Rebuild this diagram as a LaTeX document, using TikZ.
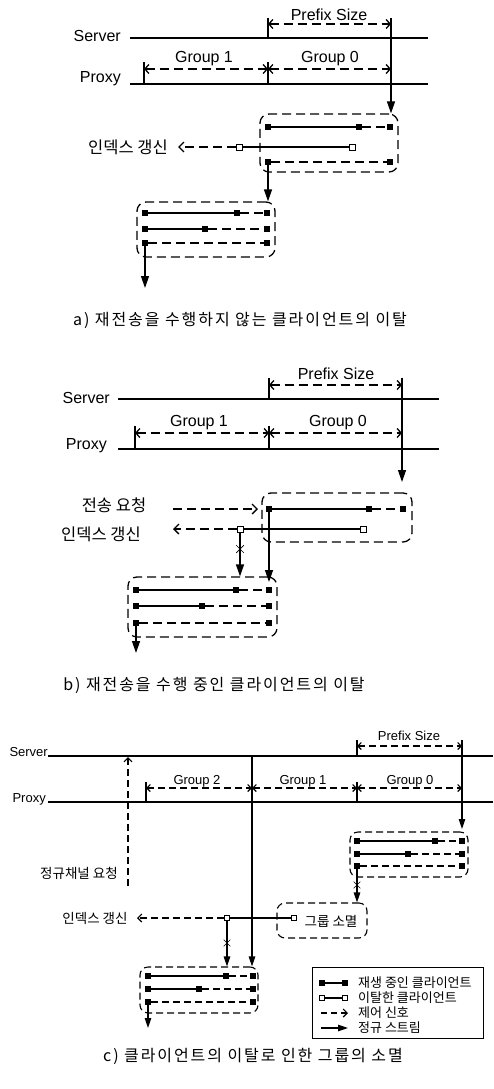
\documentclass[tikz,border=0pt]{standalone}
\usepackage{fontspec}
\setmainfont{Liberation Sans}
\newfontfamily\kr{Noto Sans CJK KR}
\newfontfamily\krcap[LetterSpace=12]{Noto Sans CJK KR}
\usetikzlibrary{arrows.meta,shapes.misc}
\tikzset{
 bsq/.style={rectangle, fill=black, minimum size=6.5pt, inner sep=0pt},
 wsq/.style={rectangle, draw=black, fill=white, line width=0.9pt, minimum size=6pt, inner sep=0pt},
 sl/.style={line width=1.3pt},
 dl/.style={line width=1.3pt, dash pattern=on 9pt off 5pt},
 boxn/.style={draw, line width=1.3pt, dash pattern=on 9pt off 5pt, rounded corners=9pt, inner sep=0pt},
 sarr/.style={line width=1.3pt, -{Triangle[length=12pt,width=8pt]}},
 carr/.style={dl, -{Straight Barb[length=5pt,width=10pt]}},
 darr/.style={dl, {Straight Barb[length=4pt,width=9pt]}-{Straight Barb[length=4pt,width=9pt]}},
 xm/.style={draw, cross out, line width=0.7pt, minimum size=7pt, inner sep=0pt},
 lat/.style={font=\fontsize{16}{18}\selectfont, inner sep=0pt},
 kor/.style={font=\kr\fontsize{16.5}{18}\selectfont, inner sep=0pt},
 captxt/.style={font=\krcap\fontsize{16}{18}\selectfont, inner sep=0pt},
 bsqc/.style={rectangle, fill=black, minimum size=5.5pt, inner sep=0pt},
 wsqc/.style={rectangle, draw=black, fill=white, line width=0.8pt, minimum size=5.5pt, inner sep=0pt},
 slc/.style={line width=1.1pt},
 dlc/.style={line width=1.1pt, dash pattern=on 7pt off 4pt},
 boxc/.style={draw, line width=1.1pt, dash pattern=on 7pt off 4pt, rounded corners=8pt, inner sep=0pt},
 sarrc/.style={line width=1.1pt, -{Triangle[length=10pt,width=6.5pt]}},
 carrc/.style={dlc, -{Straight Barb[length=4pt,width=8pt]}},
 darrc/.style={dlc, {Straight Barb[length=3.5pt,width=7pt]}-{Straight Barb[length=3.5pt,width=7pt]}},
 latc/.style={font=\fontsize{13}{15}\selectfont, inner sep=0pt},
 korc/.style={font=\kr\fontsize{13.5}{15}\selectfont, inner sep=0pt},
 kleg/.style={font=\kr\fontsize{13}{15}\selectfont, inner sep=0pt},
}
\begin{document}
\begin{tikzpicture}[x=1pt,y=-1pt]
\fill[white] (0,0) rectangle (493,1089);
\useasboundingbox (0,0) rectangle (493,1089);

%%%%%%%%%%%%%%%% Panel a
\node[lat, anchor=east] (aServer) at (121,36) {Server};
\node[lat, anchor=east] (aProxy) at (121,79) {Proxy};
\coordinate (aS1) at (130,38); \coordinate (aS2) at (428,38);
\coordinate (aP1) at (130,84); \coordinate (aP2) at (428,84);
\draw[sl] (aS1) -- (aS2);
\draw[sl] (aP1) -- (aP2);
% prefix
\coordinate (aT1) at (268,18); \coordinate (aT2) at (391,18);
\draw[sl] (aT1) -- (aT1 |- aS1);
\draw[darr] (268,24) coordinate (aPa) -- (391,24) coordinate (aPb);
\node[lat] (aPrefix) at (329,15) {Prefix Size};
% groups
\coordinate (aG1) at (144,62); \coordinate (aG2) at (268,62);
\draw[sl] (aG1) -- (aG1 |- aP1);
\draw[sl] (aG2) -- (aG2 |- aP1);
\draw[darr] (144,69) coordinate (aGa) -- (268,69) coordinate (aGb);
\draw[darr] (aGb) -- (391,69) coordinate (aGc);
\node[lat] (aGroup1) at (204,59) {Group 1};
\node[lat] (aGroup0) at (330,59) {Group 0};
% box 1
\node[boxn, minimum width=138pt, minimum height=58pt] (aBox1) at (329,143) {};
\draw[sarr] (aT2) -- (aT2 |- aBox1.north);
\node[bsq] (a11) at (268,127) {};
\node[bsq] (a12) at (359,127) {};
\node[bsq] (a13) at (390,127) {};
\draw[sl] (a11) -- (a12); \draw[dl] (a12) -- (a13);
\node[wsq] (a21) at (239,147) {};
\node[wsq] (a22) at (352,147) {};
\draw[sl] (a21) -- (a22);
\node[kor, anchor=east] (aIdx) at (168,147) {인덱스 갱신};
\coordinate (aIdxTip) at (178,147);
\draw[carr] (a21) -- (aIdxTip);
\node[bsq] (a31) at (268,162) {};
\node[bsq] (a32) at (390,162) {};
\draw[dl] (a31) -- (a32);
% box 2
\node[boxn, minimum width=138pt, minimum height=55pt] (aBox2) at (206,229.5) {};
\draw[sarr] (a31) -- (a31 |- aBox2.north);
\node[bsq] (a41) at (145,213) {};
\node[bsq] (a42) at (237,213) {};
\node[bsq] (a43) at (267,213) {};
\draw[sl] (a41) -- (a42); \draw[dl] (a42) -- (a43);
\node[bsq] (a51) at (145,229) {};
\node[bsq] (a52) at (205,229) {};
\node[bsq] (a53) at (267,229) {};
\draw[sl] (a51) -- (a52); \draw[dl] (a52) -- (a53);
\node[bsq] (a61) at (145,243) {};
\node[bsq] (a62) at (267,243) {};
\draw[dl] (a61) -- (a62);
\coordinate (aEnd) at (145,288);
\draw[sarr] (a61) -- (aEnd);
\node[captxt] (capA) at (240,320) {a) 재전송을 수행하지 않는 클라이언트의 이탈};

%%%%%%%%%%%%%%%% Panel b
\node[lat, anchor=east] (bServer) at (110,398) {Server};
\node[lat, anchor=east] (bProxy) at (107,446) {Proxy};
\coordinate (bS1) at (118,399); \coordinate (bS2) at (439,399);
\coordinate (bP1) at (118,449); \coordinate (bP2) at (439,449);
\draw[sl] (bS1) -- (bS2);
\draw[sl] (bP1) -- (bP2);
\coordinate (bT1) at (269,378); \coordinate (bT2) at (402,378);
\draw[sl] (bT1) -- (bT1 |- bS1);
\draw[darr] (269,385) coordinate (bPa) -- (402,385) coordinate (bPb);
\node[lat] (bPrefix) at (336,374) {Prefix Size};
\coordinate (bG1) at (135,426); \coordinate (bG2) at (269,426);
\draw[sl] (bG1) -- (bG1 |- bP1);
\draw[sl] (bG2) -- (bG2 |- bP1);
\draw[darr] (135,433) coordinate (bGa) -- (269,433) coordinate (bGb);
\draw[darr] (bGb) -- (402,433) coordinate (bGc);
\node[lat] (bGroup1) at (199,423) {Group 1};
\node[lat] (bGroup0) at (338,423) {Group 0};
% box 1
\node[boxn, minimum width=150pt, minimum height=49pt] (bBox1) at (337,517.5) {};
\coordinate (bArrEnd) at (402,482);
\draw[sarr] (bT2) -- (bArrEnd);
\node[kor] (bReq) at (114,505) {전송 요청};
\coordinate (bReqS) at (173,509); \coordinate (bReqT) at (258,509);
\draw[carr] (bReqS) -- (bReqT);
\node[bsq] (b11) at (269,509) {};
\node[bsq] (b12) at (369,509) {};
\node[bsq] (b13) at (403,509) {};
\draw[sl] (b11) -- (b12); \draw[dl] (b12) -- (b13);
\node[wsq] (b21) at (240,529) {};
\node[wsq] (b22) at (363,529) {};
\draw[sl] (b21) -- (b22);
\node[kor] (bIdx) at (101,534) {인덱스 갱신};
\coordinate (bIdxTip) at (173,529);
\draw[carr] (b21) -- (bIdxTip);
% box 2
\node[boxn, minimum width=149pt, minimum height=60pt] (bBox2) at (202.5,607) {};
\draw[sarr] (b11) -- (269,582);
\draw[sarr] (b21) -- (b21 |- bBox2.north);
\node[xm] (bX) at (240,549) {};
\node[bsq] (b41) at (136,590) {};
\node[bsq] (b42) at (236,590) {};
\node[bsq] (b43) at (269,590) {};
\draw[sl] (b41) -- (b42); \draw[dl] (b42) -- (b43);
\node[bsq] (b51) at (136,606) {};
\node[bsq] (b52) at (202,606) {};
\node[bsq] (b53) at (269,606) {};
\draw[sl] (b51) -- (b52); \draw[dl] (b52) -- (b53);
\node[bsq] (b61) at (136,623) {};
\node[bsq] (b62) at (269,623) {};
\draw[dl] (b61) -- (b62);
\coordinate (bEnd) at (136,653);
\draw[sarr] (b61) -- (bEnd);
\node[captxt] (capB) at (214,685) {b) 재전송을 수행 중인 클라이언트의 이탈};

%%%%%%%%%%%%%%%% Panel c
\node[latc, anchor=east] (cServer) at (48,752) {Server};
\node[latc, anchor=east] (cProxy) at (46,799) {Proxy};
\coordinate (cS1) at (48,756); \coordinate (cS2) at (493,756);
\coordinate (cP1) at (48,802); \coordinate (cP2) at (493,802);
\draw[slc] (cS1) -- (cS2);
\draw[slc] (cP1) -- (cP2);
\coordinate (cT1) at (357,740); \coordinate (cT2) at (462,740);
\draw[slc] (cT1) -- (cT1 |- cS1);
\draw[darrc] (357,746) coordinate (cPa) -- (462,746) coordinate (cPb);
\node[latc] (cPrefix) at (409,736) {Prefix Size};
\coordinate (cG1) at (146,782); \coordinate (cG3) at (357,782);
\draw[slc] (cG1) -- (cG1 |- cP1);
\draw[slc] (cG3) -- (cG3 |- cP1);
\draw[darrc] (146,788) coordinate (cGa) -- (252,788) coordinate (cGb);
\draw[darrc] (cGb) -- (357,788) coordinate (cGc);
\draw[darrc] (cGc) -- (462,788) coordinate (cGd);
\node[latc] (cGroup2) at (197,781) {Group 2};
\node[latc] (cGroup1) at (303,781) {Group 1};
\node[latc] (cGroup0) at (410,781) {Group 0};
% regular channel request
\coordinate (cQ1) at (128,886); \coordinate (cQ2) at (128,757);
\draw[carrc] (cQ1) -- (cQ2);
\node[korc] (cReq) at (79,873) {정규채널 요청};
% box 1
\node[boxc, minimum width=118pt, minimum height=45pt] (cBox1) at (409,854.5) {};
\coordinate (cArrEnd) at (462,829);
\draw[sarrc] (cT2) -- (cArrEnd);
\node[bsqc] (c11) at (357,841) {};
\node[bsqc] (c12) at (435,841) {};
\node[bsqc] (c13) at (462,841) {};
\draw[slc] (c11) -- (c12); \draw[dlc] (c12) -- (c13);
\node[bsqc] (c21) at (357,854) {};
\node[bsqc] (c22) at (408,854) {};
\node[bsqc] (c23) at (462,854) {};
\draw[slc] (c21) -- (c22); \draw[dlc] (c22) -- (c23);
\node[bsqc] (c31) at (357,866) {};
\node[bsqc] (c32) at (462,866) {};
\draw[dlc] (c31) -- (c32);
% box 3
\node[boxc, minimum width=90pt, minimum height=35pt] (cBox3) at (322,920.5) {};
\draw[sarrc] (c31) -- (c31 |- cBox3.north);
\node[xm, minimum size=6pt, line width=0.6pt] (cX1) at (357,885) {};
\node[wsqc] (c42) at (294,918) {};
\node[korc] (cGone) at (331,921) {그룹 소멸};
\node[wsqc] (c41) at (227,918) {};
\draw[slc] (c41) -- (c42);
\node[korc] (cIdx) at (95,918) {인덱스 갱신};
\coordinate (cIdxTip) at (137,918);
\draw[carrc] (c41) -- (cIdxTip);
% box 2
\node[boxc, minimum width=118pt, minimum height=46pt] (cBox2) at (199,990) {};
\coordinate (cL1) at (252,756);
\draw[sarrc] (cL1) -- (cL1 |- cBox2.north);
\draw[sarrc] (c41) -- (c41 |- cBox2.north);
\node[xm, minimum size=6pt, line width=0.6pt] (cX2) at (227,943) {};
\node[bsqc] (c51) at (148,976) {};
\node[bsqc] (c52) at (226,976) {};
\node[bsqc] (c53) at (253,976) {};
\draw[slc] (c51) -- (c52); \draw[dlc] (c52) -- (c53);
\node[bsqc] (c61) at (148,989) {};
\node[bsqc] (c62) at (199,989) {};
\node[bsqc] (c63) at (253,989) {};
\draw[slc] (c61) -- (c62); \draw[dlc] (c62) -- (c63);
\node[bsqc] (c71) at (148,1002) {};
\node[bsqc] (c72) at (253,1002) {};
\draw[dlc] (c71) -- (c72);
\coordinate (cEnd) at (148,1028);
\draw[sarrc] (c71) -- (cEnd);
% legend
\node[draw, line width=1pt, minimum width=171pt, minimum height=71pt, inner sep=0pt] (legend) at (397.5,1002.5) {};
\node[bsqc] (l11) at (322,983) {};
\node[bsqc] (l12) at (345,983) {};
\draw[slc] (l11) -- (l12);
\node[kleg, anchor=west] (lt1) at (358,983) {재생 중인 클라이언트};
\node[wsqc] (l21) at (322,998) {};
\node[wsqc] (l22) at (345,998) {};
\draw[slc] (l21) -- (l22);
\node[kleg, anchor=west] (lt2) at (358,998) {이탈한 클라이언트};
\coordinate (l31) at (321,1013); \coordinate (l32) at (348,1013);
\draw[dlc, dash pattern=on 6pt off 4pt, -{Straight Barb[length=4pt,width=8pt]}] (l31) -- (l32);
\node[kleg, anchor=west] (lt3) at (358,1013) {제어 신호};
\coordinate (l41) at (321,1028); \coordinate (l42) at (348,1028);
\draw[sarrc] (l41) -- (l42);
\node[kleg, anchor=west] (lt4) at (358,1028) {정규 스트림};
\node[captxt] (capC) at (253,1056) {c) 클라이언트의 이탈로 인한 그룹의 소멸};
\end{tikzpicture}
\end{document}
